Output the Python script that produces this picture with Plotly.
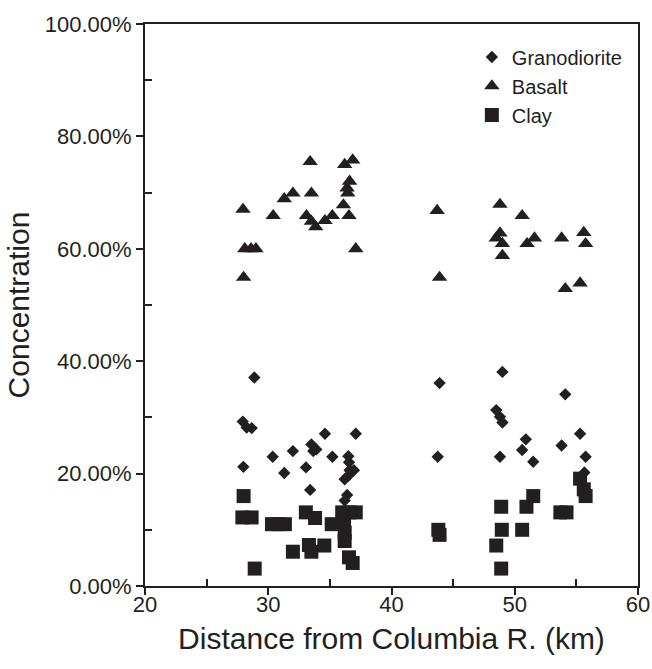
import plotly.graph_objects as go

# ---------------- data ----------------
grano_x = [28.87, 27.93, 28.25, 28.66, 27.98, 30.36, 31.3, 32.0, 33.06, 33.4, 33.5, 33.65,
           33.9, 34.6, 35.2, 37.1, 36.5, 36.55, 36.2, 36.5, 36.6, 36.95, 36.4, 36.2,
           43.9, 43.75, 49.0, 48.5, 48.8, 49.0, 48.8, 50.9, 50.6, 51.5, 53.8, 54.1,
           55.3, 55.75, 55.65]
grano_y = [37.1, 29.25, 28.2, 28.1, 21.2, 23.0, 20.1, 24.0, 21.1, 17.1, 25.2, 24.0,
           24.3, 27.1, 23.0, 27.1, 23.1, 22.0, 19.0, 19.6, 20.6, 20.6, 16.2, 15.2,
           36.1, 23.0, 38.1, 31.3, 30.1, 29.1, 23.0, 26.1, 24.2, 22.1, 25.0, 34.1,
           27.1, 23.0, 20.2]

basalt_x = [27.95, 28.0, 28.1, 28.6, 29.0, 30.4, 31.3, 32.0, 33.1, 33.4, 33.5, 33.5,
            33.85, 34.6, 35.2, 36.1, 36.2, 36.4, 36.45, 36.55, 36.6, 36.85, 37.1,
            43.7, 43.9, 48.5, 48.8, 48.8, 49.0, 49.0, 50.6, 51.0, 51.6, 53.8, 54.1,
            55.3, 55.6, 55.75]
basalt_y = [67.0, 54.9, 60.0, 60.0, 60.0, 65.9, 68.9, 69.9, 65.9, 75.5, 69.9, 64.9,
            63.9, 65.0, 65.9, 67.8, 75.0, 70.8, 69.9, 65.9, 72.0, 75.8, 60.0,
            66.8, 54.9, 61.9, 67.9, 62.8, 60.9, 58.8, 65.9, 60.9, 61.9, 61.9, 52.9,
            53.9, 62.9, 60.9]

clay_x = [28.0, 27.9, 28.65, 28.9, 30.3, 30.8, 31.35, 32.0, 33.05, 33.8, 33.3, 33.5,
          34.55, 35.15, 36.0, 36.6, 37.1, 36.15, 36.2, 36.2, 36.55, 36.85,
          43.8, 43.9, 48.9, 48.95, 48.5, 48.9, 50.95, 51.5, 50.6, 53.7, 54.2,
          55.3, 55.6, 55.75]
clay_y = [16.0, 12.2, 12.2, 3.1, 11.0, 11.0, 11.0, 6.1, 13.1, 12.1, 7.3, 6.1,
          7.2, 11.0, 13.1, 13.1, 13.1, 11.3, 9.5, 8.0, 5.1, 4.1,
          10.0, 9.1, 14.1, 10.0, 7.2, 3.1, 14.1, 16.0, 10.0, 13.1, 13.1,
          19.1, 17.2, 16.0]

x_ticks = [20, 30, 40, 50, 60]
y_ticks = [0, 20, 40, 60, 80, 100]
y_tick_labels = ["0.00%", "20.00%", "40.00%", "60.00%", "80.00%", "100.00%"]

# ---------------- figure ----------------
INK = "#231f20"
FONT = "Liberation Sans, Arial, Helvetica, sans-serif"

fig = go.Figure()
fig.add_trace(go.Scatter(x=grano_x, y=grano_y, mode="markers", name="Granodiorite",
                         marker=dict(symbol="diamond", size=9.5, color=INK)))
fig.add_trace(go.Scatter(x=basalt_x, y=basalt_y, mode="markers", name="Basalt",
                         marker=dict(symbol="triangle-up", size=13.5, color=INK)))
fig.add_trace(go.Scatter(x=clay_x, y=clay_y, mode="markers", name="Clay",
                         marker=dict(symbol="square", size=14, color=INK)))

fig.update_layout(
    width=652, height=669,
    margin=dict(l=145, r=14, t=24, b=83),
    paper_bgcolor="white", plot_bgcolor="white",
    font=dict(family=FONT, color=INK, size=22),
    showlegend=True,
    legend=dict(x=0.663, y=0.976, xanchor="left", yanchor="top",
                font=dict(size=20, color=INK), bgcolor="rgba(0,0,0,0)",
                itemwidth=30),
    xaxis=dict(range=[20, 60], tickvals=x_ticks, showgrid=False, zeroline=False,
               automargin=False,
               showline=True, linecolor=INK, linewidth=2, mirror=True,
               ticks="outside", ticklen=7, tickwidth=2, tickcolor=INK,
               ticklabelstandoff=-9,
               minor=dict(tickvals=[25, 35, 45, 55], ticks="inside", ticklen=7,
                          tickwidth=1.5, tickcolor=INK, showgrid=False),
               tickfont=dict(size=22),
               title=dict(text="Distance from Columbia R. (km)", font=dict(size=30),
                          standoff=12)),
    yaxis=dict(range=[0, 100], tickvals=y_ticks, ticktext=y_tick_labels,
               showgrid=False, zeroline=False, automargin=False,
               showline=True, linecolor=INK, linewidth=2, mirror=True,
               ticks="outside", ticklen=7, tickwidth=2, tickcolor=INK,
               minor=dict(tickvals=[10, 30, 50, 70, 90], ticks="inside", ticklen=7,
                          tickwidth=1.5, tickcolor=INK, showgrid=False),
               tickfont=dict(size=22),
               title=dict(text="Concentration", font=dict(size=30), standoff=6)),
    xaxis2=dict(overlaying="x", matches="x", anchor="y", side="bottom",
                automargin=False,
                tickvals=x_ticks, ticks="inside", ticklen=7, tickwidth=2,
                tickcolor=INK, showticklabels=False, showgrid=False,
                zeroline=False, showline=False),
)

fig.write_html("out.html",
               config={"displayModeBar": False},
               post_script="document.body.style.margin='0px';"
                           "document.body.style.overflow='hidden';")
